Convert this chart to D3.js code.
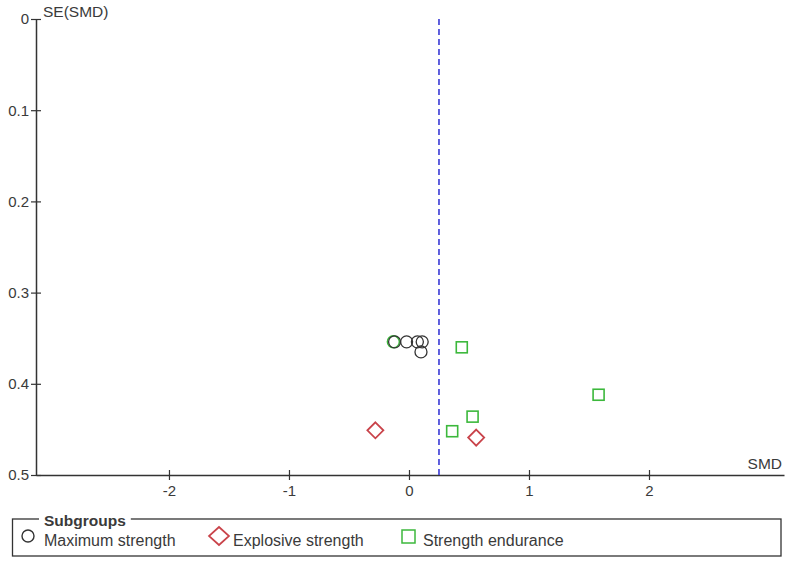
<!DOCTYPE html>
<html><head><meta charset="utf-8">
<script src="https://cdn.jsdelivr.net/npm/d3@7"></script>
<style>body{margin:0;background:#fff}svg{display:block;font-family:"Liberation Sans",Arial,sans-serif}</style>
</head><body><svg id="c" width="794" height="565"></svg>
<script>
const xTicks = [-2, -1, 0, 1, 2];
const yTicks = [0, 0.1, 0.2, 0.3, 0.4, 0.5];
const pooledSMD = 0.25;
// Maximum strength (circles)
const maxSMD = [-0.12, -0.02, 0.07, 0.11, 0.10];
const maxSE  = [0.354, 0.354, 0.354, 0.354, 0.365];
// green circle overlapping
const greenCircleSMD = [-0.13];
const greenCircleSE = [0.354];
// Explosive strength (diamonds)
const expSMD = [-0.28, 0.56];
const expSE  = [0.451, 0.459];
// Strength endurance (squares)
const endSMD = [0.44, 0.36, 0.53, 1.58];
const endSE  = [0.360, 0.452, 0.436, 0.412];
const legendLabels = ["Maximum strength", "Explosive strength", "Strength endurance"];

const svg = d3.select("#c");
const x = d3.scaleLinear().domain([-3.108, 3.125]).range([36, 784]);
const y = d3.scaleLinear().domain([0, 0.5]).range([19, 475]);
const axisCol = "#333";
const txtCol = "#3a3a3a";
const FF = "Liberation Sans, Arial, sans-serif";

// y axis
const gy = svg.append("g").attr("transform", "translate(36,0)")
  .call(d3.axisLeft(y).tickValues(yTicks).tickFormat(d => d === 0 ? "0" : d3.format(".1f")(d)).tickSize(5).tickSizeOuter(0));
gy.select(".domain").attr("stroke", axisCol).attr("stroke-width", 1.5);
gy.selectAll(".tick line").attr("stroke", axisCol).attr("x2", 5).attr("x1", -5).attr("stroke-width", 1.2);
gy.selectAll(".tick text").attr("font-size", 15).attr("fill", txtCol).attr("x", -7).attr("font-family", FF);

// x axis
const gx = svg.append("g").attr("transform", "translate(0,475)")
  .call(d3.axisBottom(x).tickValues(xTicks).tickFormat(d => String(d)).tickSize(5).tickSizeOuter(0));
gx.select(".domain").attr("stroke", axisCol).attr("stroke-width", 1.5);
gx.selectAll(".tick line").attr("stroke", axisCol).attr("y1", -5).attr("y2", 5).attr("stroke-width", 1.2);
gx.selectAll(".tick text").attr("font-size", 15).attr("fill", txtCol).attr("y", 10).attr("font-family", FF);

svg.append("text").attr("x", 43).attr("y", 17).attr("font-size", 15.5).attr("fill", txtCol).text("SE(SMD)");
svg.append("text").attr("x", 782).attr("y", 469).attr("text-anchor", "end").attr("font-size", 15.5).attr("fill", txtCol).text("SMD");

// pooled line
svg.append("line").attr("x1", x(pooledSMD)).attr("x2", x(pooledSMD)).attr("y1", y(0)).attr("y2", y(0.5))
  .attr("stroke", "#3a3ad6").attr("stroke-width", 1.6).attr("stroke-dasharray", "6,4");

const black = "#333", red = "#c9434a", green = "#3cb83c";
// circles
svg.selectAll("c.gc").data(greenCircleSMD.map((d, i) => [d, greenCircleSE[i]])).enter().append("circle")
  .attr("cx", d => x(d[0])).attr("cy", d => y(d[1])).attr("r", 6).attr("fill", "none").attr("stroke", green).attr("stroke-width", 1.5);
svg.selectAll("c.mc").data(maxSMD.map((d, i) => [d, maxSE[i]])).enter().append("circle")
  .attr("cx", d => x(d[0])).attr("cy", d => y(d[1])).attr("r", 6).attr("fill", "none").attr("stroke", black).attr("stroke-width", 1.3);
// diamonds
svg.selectAll("p.ex").data(expSMD.map((d, i) => [d, expSE[i]])).enter().append("path")
  .attr("d", d => { const cx = x(d[0]), cy = y(d[1]), r = 8; return `M${cx},${cy - r}L${cx + r},${cy}L${cx},${cy + r}L${cx - r},${cy}Z`; })
  .attr("fill", "none").attr("stroke", red).attr("stroke-width", 1.8);
// squares
svg.selectAll("r.en").data(endSMD.map((d, i) => [d, endSE[i]])).enter().append("rect")
  .attr("x", d => x(d[0]) - 5.5).attr("y", d => y(d[1]) - 5.5).attr("width", 11).attr("height", 11)
  .attr("fill", "none").attr("stroke", green).attr("stroke-width", 1.6);

// legend
svg.append("rect").attr("x", 12.5).attr("y", 519).attr("width", 768.5).attr("height", 37).attr("fill", "none").attr("stroke", axisCol).attr("stroke-width", 1.3);
const bg = svg.append("rect").attr("fill", "#fff");
const lt = svg.append("text").attr("x", 44).attr("y", 525.5).attr("font-size", 15.5).attr("font-weight", "bold").attr("fill", txtCol).attr("font-family", FF).text("Subgroups");
const bb = lt.node().getBBox();
bg.attr("x", bb.x - 5).attr("y", 514).attr("width", bb.width + 10).attr("height", 10);
const ly = 536;
svg.append("circle").attr("cx", 28).attr("cy", ly).attr("r", 6).attr("fill", "none").attr("stroke", black).attr("stroke-width", 1.4);
svg.append("text").attr("x", 44).attr("y", 546).attr("font-size", 16).attr("fill", txtCol).text(legendLabels[0]);
svg.append("path").attr("d", `M219,${ly - 9}L229,${ly}L219,${ly + 9}L209,${ly}Z`).attr("fill", "none").attr("stroke", red).attr("stroke-width", 1.7);
svg.append("text").attr("x", 233).attr("y", 546).attr("font-size", 16).attr("fill", txtCol).text(legendLabels[1]);
svg.append("rect").attr("x", 402).attr("y", 530).attr("width", 13).attr("height", 13).attr("fill", "none").attr("stroke", green).attr("stroke-width", 1.5);
svg.append("text").attr("x", 423).attr("y", 546).attr("font-size", 16).attr("fill", txtCol).text(legendLabels[2]);
</script></body></html>
